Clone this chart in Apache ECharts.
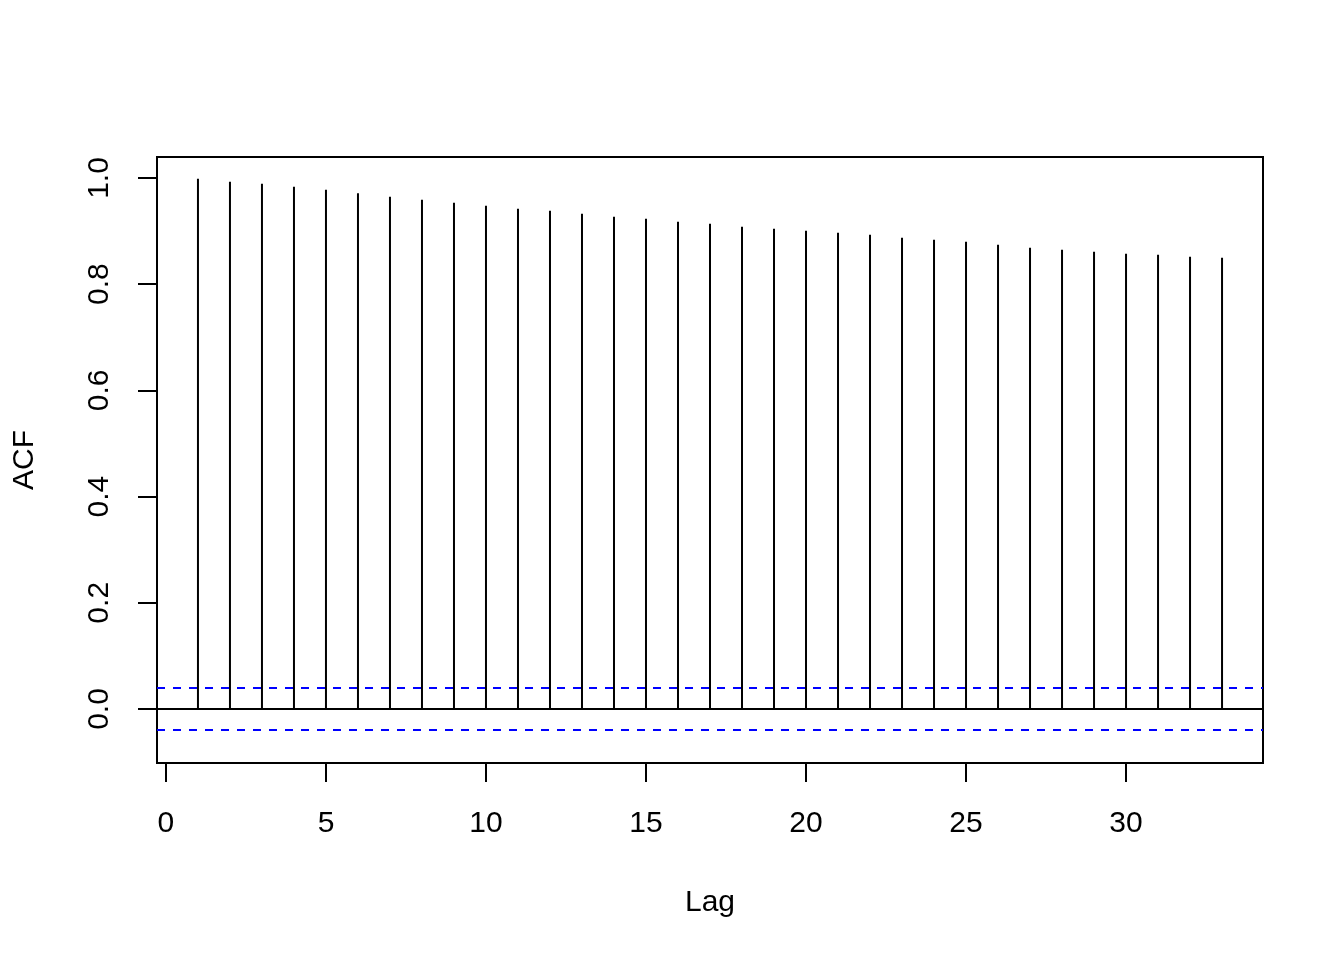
<!DOCTYPE html>
<html>
<head>
<meta charset="utf-8">
<script src="https://cdn.jsdelivr.net/npm/echarts@6/dist/echarts.min.js"></script>
<style>
html,body{margin:0;padding:0;background:#fff;}
#chart{width:1344px;height:960px;}
</style>
</head>
<body>
<div id="chart"></div>
<script>
const lags = [1,2,3,4,5,6,7,8,9,10,11,12,13,14,15,16,17,18,19,20,21,22,23,24,25,26,27,28,29,30,31,32,33];
const acfValues = [0.9987,0.9930,0.9893,0.9836,0.9780,0.9710,0.9648,0.9591,0.9535,0.9478,0.9422,
  0.9384,0.9327,0.9271,0.9233,0.9177,0.9139,0.9082,0.9044,0.9007,0.8969,0.8932,
  0.8875,0.8837,0.8800,0.8743,0.8686,0.8649,0.8611,0.8574,0.8555,0.8517,0.8498];
const ciBound = 0.0396;
const xTicks = [0,5,10,15,20,25,30];
const yTicks = [0,0.2,0.4,0.6,0.8,1.0];
const xLabel = 'Lag';
const yLabel = 'ACF';

const font = 'Liberation Sans, Arial, sans-serif';
const fs = 30;
const chart = echarts.init(document.getElementById('chart'), null, {renderer:'canvas'});
chart.setOption({
  animation:false,
  backgroundColor:'#ffffff',
  grid:{left:157,right:81,top:157,bottom:197,show:true,borderColor:'#000',borderWidth:2,backgroundColor:'transparent'},
  xAxis:{
    type:'value', min:-0.28, max:34.28,
    name:xLabel, nameLocation:'middle', nameGap:125,
    nameTextStyle:{fontFamily:font,fontSize:fs,color:'#000'},
    axisLine:{show:false,onZero:false},
    splitLine:{show:false},
    axisTick:{show:true,length:19,lineStyle:{color:'#000',width:2},customValues:xTicks},
    axisLabel:{show:true,margin:46,fontFamily:font,fontSize:fs,color:'#000',customValues:xTicks,formatter:v=>String(v)}
  },
  yAxis:{
    type:'value', min:-0.1017, max:1.0395,
    name:yLabel, nameLocation:'middle', nameGap:117, nameRotate:90,
    nameTextStyle:{fontFamily:font,fontSize:fs,color:'#000'},
    axisLine:{show:false,onZero:false},
    splitLine:{show:false},
    axisTick:{show:true,length:19,lineStyle:{color:'#000',width:2},customValues:yTicks},
    axisLabel:{show:true,margin:42,rotate:90,fontFamily:font,fontSize:fs,color:'#000',customValues:yTicks,formatter:v=>v.toFixed(1)}
  },
  series:[{
    type:'bar',
    data:lags.map((l,i)=>[l,acfValues[i]]),
    barWidth:2,
    itemStyle:{color:'#000'},
    silent:true,
    markLine:{
      silent:true,
      symbol:['none','none'],
      label:{show:false},
      data:[
        {yAxis:0,lineStyle:{color:'#000',type:'solid',width:2}},
        {yAxis:ciBound,lineStyle:{color:'#0000ff',type:[8,8],width:2}},
        {yAxis:-ciBound,lineStyle:{color:'#0000ff',type:[8,8],width:2}}
      ]
    }
  }]
});
</script>
</body>
</html>
